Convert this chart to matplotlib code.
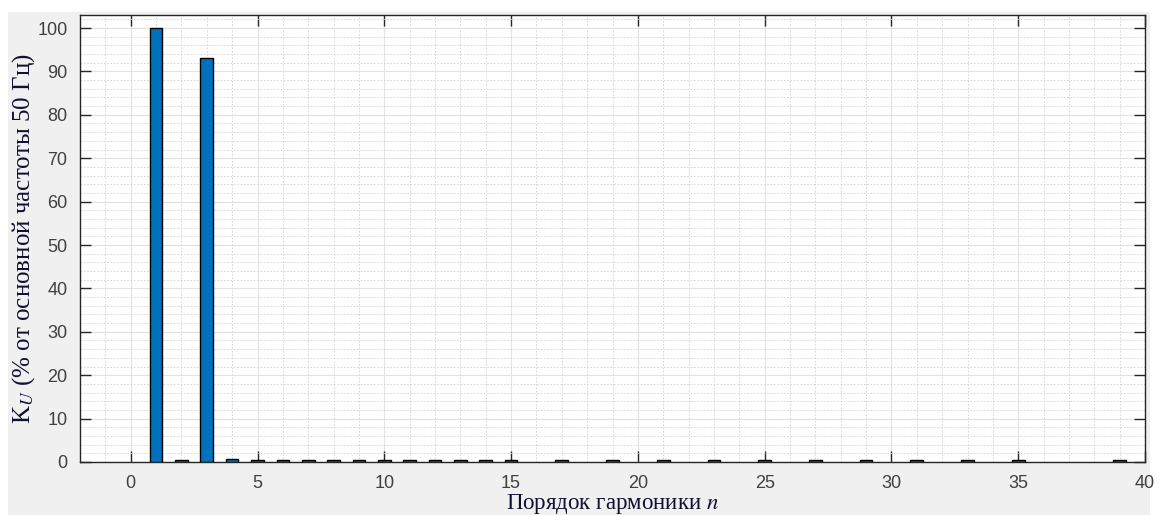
import matplotlib
matplotlib.use("Agg")
import matplotlib.pyplot as plt
from matplotlib.patches import Rectangle
from matplotlib.ticker import MultipleLocator

harmonics = [1, 2, 3, 4, 5, 6, 7, 8, 9, 10, 11, 12, 13, 14, 15,
             17, 19, 21, 23, 25, 27, 29, 31, 33, 35, 39]
values = [100, 0.35, 93, 0.8, 0.35, 0.35, 0.35, 0.35, 0.35, 0.35, 0.35, 0.35, 0.35, 0.35, 0.35,
          0.35, 0.35, 0.35, 0.35, 0.35, 0.35, 0.35, 0.35, 0.35, 0.35, 0.35]
xticks = list(range(0, 41, 5))
yticks = list(range(0, 101, 10))
xlabel = "Порядок гармоники $n$"
ylabel = "K$_U$ (% от основной частоты 50 Гц)"

plt.rcParams['mathtext.fontset'] = 'stix'

W, H = 1160, 515
fig = plt.figure(figsize=(W / 100, H / 100), dpi=100, facecolor='white')
fig.patches.append(Rectangle((8 / W, 0), (1150 - 8) / W, (H - 12) / H,
                             transform=fig.transFigure, facecolor='#f0f0f0',
                             edgecolor='none', zorder=-10))

ax = fig.add_axes([80 / W, 1 - 462 / H, (1145 - 80) / W, (462 - 15) / H])
ax.set_facecolor('white')

ax.bar(harmonics, values, width=0.5, color='#0072BD', edgecolor='black',
       linewidth=1.0, zorder=3)

ax.set_xlim(-2, 40)
ax.set_ylim(0, 103)
ax.set_xticks(xticks)
ax.set_yticks(yticks)
ax.xaxis.set_minor_locator(MultipleLocator(1))
ax.yaxis.set_minor_locator(MultipleLocator(2))

ax.grid(True, which='major', color='#e2e2e2', linewidth=0.8, zorder=0)
ax.grid(True, which='minor', color='#d0d0d0', linestyle=(0, (2, 2)),
        linewidth=0.6, zorder=0)
ax.set_axisbelow(True)

for s in ax.spines.values():
    s.set_color('#262626')
    s.set_linewidth(1.0)

ax.tick_params(which='major', direction='in', length=8, width=1.0,
               top=True, right=True, color='#262626',
               labelsize=13, labelcolor='#404040', pad=9)
ax.tick_params(which='minor', length=0)
for lbl in ax.get_xticklabels() + ax.get_yticklabels():
    lbl.set_family('Liberation Sans')

ax.set_xlabel(xlabel, family='Liberation Serif', fontsize=16.5, color='#101030',
              labelpad=0)
ax.set_ylabel(ylabel, family='Liberation Serif', fontsize=18, color='#101030',
              labelpad=0)

fig.savefig('out.png', dpi=100, facecolor='white')
